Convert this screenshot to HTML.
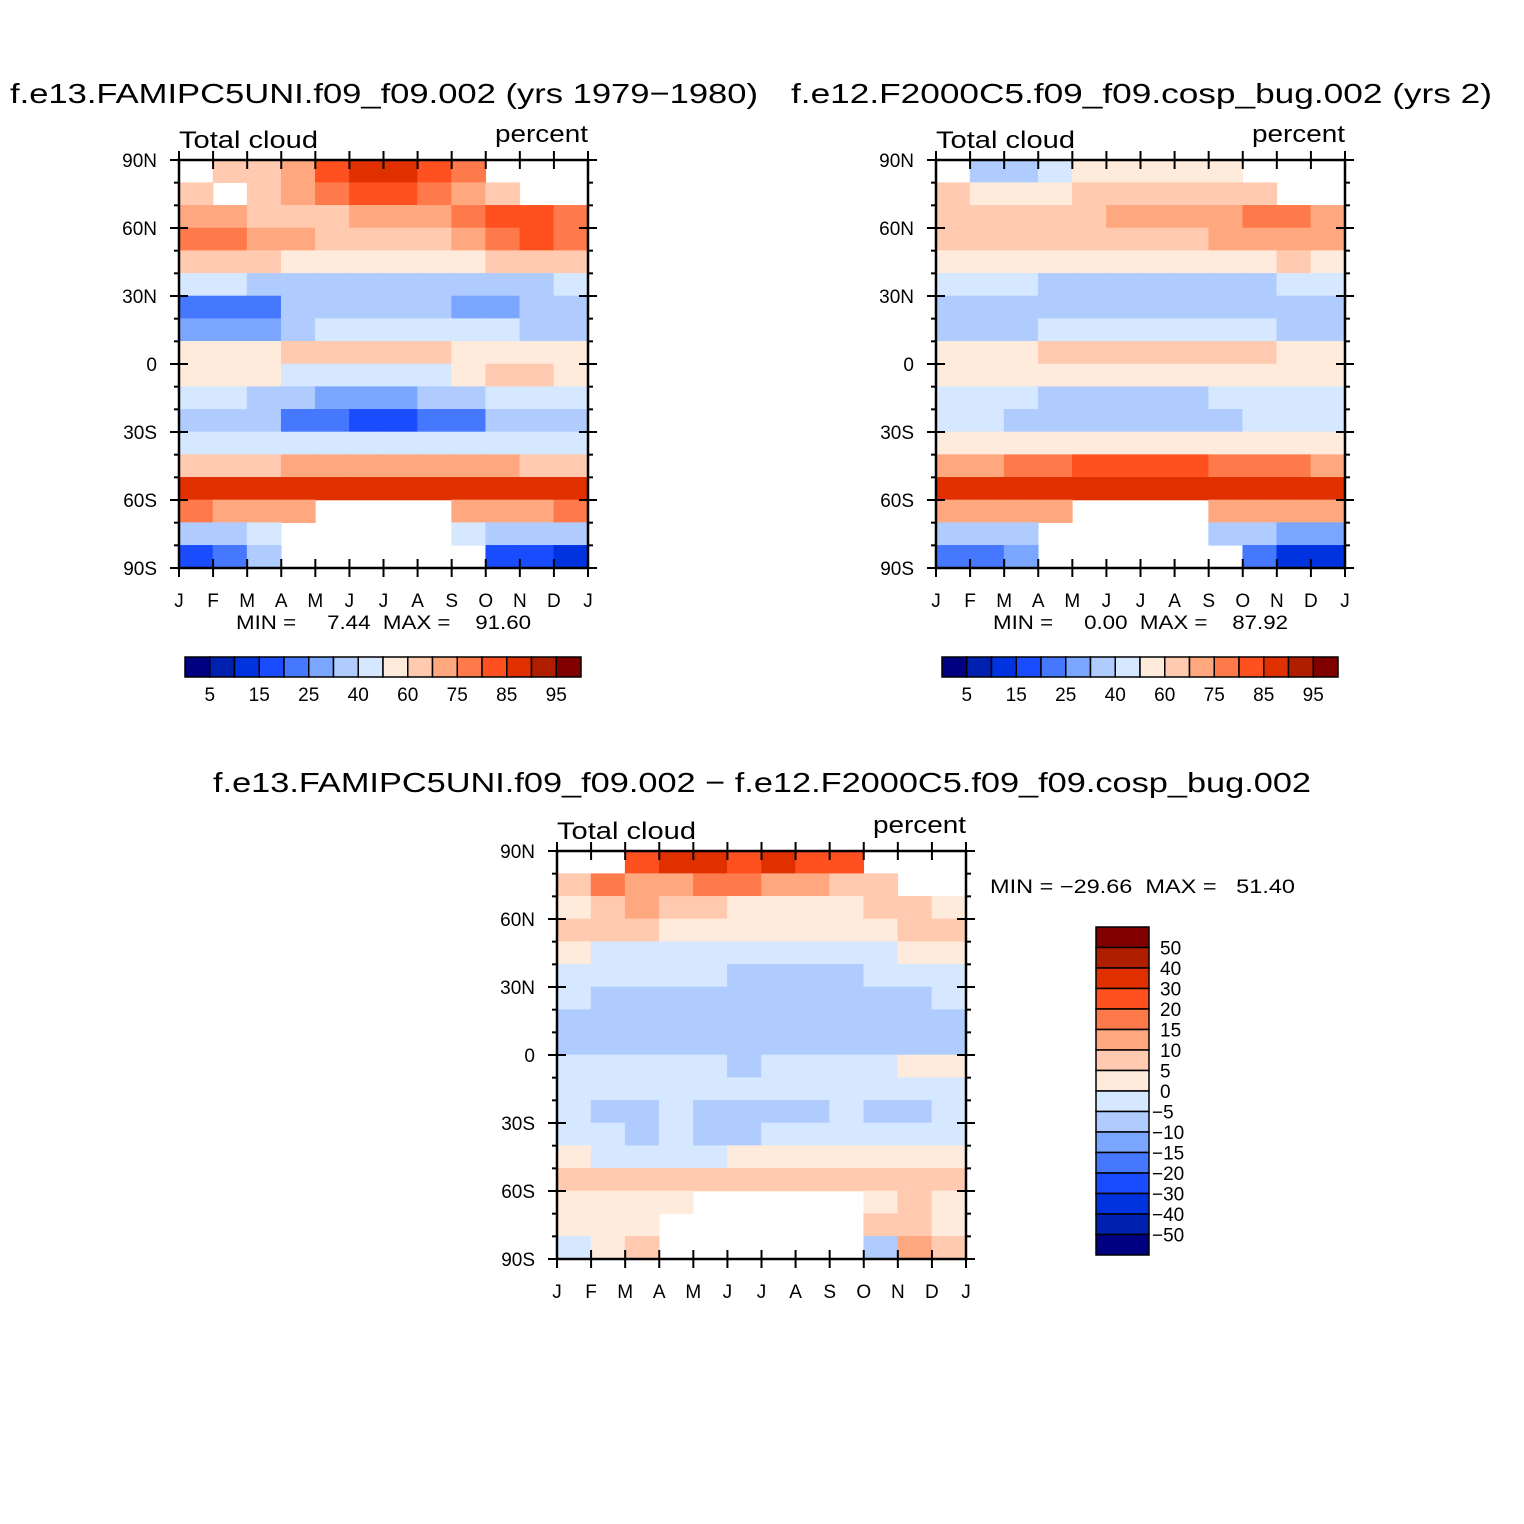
<!DOCTYPE html>
<html><head><meta charset="utf-8"><style>
html,body{margin:0;padding:0;background:#fff;}
svg{display:block;font-family:"Liberation Sans",sans-serif;}
text{white-space:pre;}
</style></head><body>
<svg id="chart" width="1524" height="1524" viewBox="0 0 1524 1524"></svg>
<script>
// ---- data ----
const months = ["J","F","M","A","M","J","J","A","S","O","N","D","J"];
const latLabels = ["90N","60N","30N","0","30S","60S","90S"];
const latTicks = [90,60,30,0,-30,-60,-90];
const latCenters = [85,75,65,55,45,35,25,15,5,-5,-15,-25,-35,-45,-55,-65,-75,-85];
const absLevels = [5,10,15,20,25,30,40,50,60,70,75,80,85,90,95];
const absLabels = ["5","15","25","40","60","75","85","95"];
const diffLevels = [-50,-40,-30,-20,-15,-10,-5,0,5,10,15,20,30,40,50];
const diffLabels = ["50","40","30","20","15","10","5","0","−5","−10","−15","−20","−30","−40","−50"];
const palette = ["#000080","#0020B0","#0033E0","#1A4CFF","#4578FF","#7AA6FF","#B0CCFF","#D6E8FF","#FFEBDC","#FFCAB0","#FFA880","#FF7A4A","#FF5020","#E03000","#B01E00","#800000"];
const N = null;
const cloudA = [
[N,62,65,70,80,86,86,82,75,N,N,N],
[62,N,68,70,75,80,82,78,72,68,N,N],
[70,70,68,66,68,72,72,74,78,80,80,75],
[76,76,72,70,68,66,66,68,72,78,82,78],
[60,62,60,58,56,55,55,55,58,62,62,60],
[40,40,38,36,36,35,32,32,35,36,38,40],
[24,22,24,30,35,35,30,30,28,28,30,30],
[28,26,28,32,42,46,46,46,45,40,36,32],
[52,52,56,62,66,66,64,62,58,56,54,52],
[56,55,50,45,45,45,45,48,55,60,62,56],
[40,40,36,30,28,28,28,30,35,40,40,40],
[36,36,30,24,20,18,18,20,24,30,32,36],
[46,46,45,42,40,40,40,40,42,44,46,46],
[66,66,66,70,74,74,74,74,72,70,68,66],
[86,85,85,86,88,88,88,88,86,86,86,86],
[76,74,74,72,N,N,N,N,74,74,74,76],
[35,36,40,N,N,N,N,N,40,36,36,35],
[16,22,30,N,N,N,N,N,N,18,16,12]];
const cloudB = [
[N,38,35,40,55,55,58,55,50,N,N,N],
[60,50,52,58,62,66,68,66,62,60,N,N],
[66,66,64,64,68,72,72,72,74,76,76,72],
[68,68,66,64,66,66,66,68,70,72,74,70],
[58,58,56,55,55,55,56,55,56,58,60,58],
[42,40,40,38,36,36,35,35,36,38,40,42],
[32,30,32,36,36,36,32,32,30,30,30,30],
[36,36,38,40,42,44,44,44,44,40,38,36],
[56,56,58,62,66,66,66,64,62,60,58,56],
[56,56,54,52,52,52,52,54,56,58,58,56],
[46,46,42,38,36,36,36,38,40,44,46,46],
[42,42,38,36,32,30,32,34,36,40,42,42],
[54,54,54,52,52,52,52,52,52,54,54,54],
[74,74,76,78,80,80,80,80,78,76,76,74],
[86,86,86,86,88,88,86,86,86,86,86,86],
[70,70,72,70,N,N,N,N,72,70,70,70],
[30,30,34,N,N,N,N,N,36,30,28,28],
[20,22,28,N,N,N,N,N,N,24,14,12]];
const cloudDiff = [
[N,N,25,30,30,25,30,25,20,N,N,N],
[8,15,12,10,15,15,10,10,6,6,N,N],
[4,6,10,6,6,4,2,2,4,6,6,4],
[6,6,6,3,3,2,2,2,2,3,6,6],
[2,-2,-2,-2,-2,-3,-5,-5,-2,-2,2,2],
[-2,-3,-2,-3,-3,-6,-6,-6,-6,-3,-3,-2],
[-3,-6,-6,-6,-6,-6,-6,-6,-6,-6,-6,-3],
[-6,-6,-6,-6,-6,-6,-6,-6,-6,-6,-6,-6],
[-6,-8,-6,-6,-6,-6,-6,-6,-6,-6,-8,-6],
[-3,-3,-3,-3,-3,-6,-3,-3,-3,-3,2,2],
[-3,-3,-3,-2,-2,-3,-3,-3,-3,-3,-3,-3],
[-2,-6,-6,-3,-6,-8,-8,-6,-3,-6,-6,-3],
[-3,-3,-6,-3,-6,-6,-3,-3,-3,-3,-3,-2],
[2,-2,-2,-2,-2,2,2,2,2,2,2,2],
[6,6,6,6,6,6,6,6,6,6,6,6],
[4,3,3,3,N,N,N,N,N,4,6,4],
[3,3,3,N,N,N,N,N,N,6,6,3],
[-2,2,6,N,N,N,N,N,N,-6,12,8]];

const svg = document.getElementById('chart');
const NS = 'http://www.w3.org/2000/svg';
function el(tag, attrs, parent){const e=document.createElementNS(NS,tag);for(const k in attrs)e.setAttribute(k,attrs[k]);(parent||svg).appendChild(e);return e;}
function txt(x,y,s,size,anchor,name,len){const t=el('text',{x:x,y:y,'font-size':size,'text-anchor':anchor||'middle',fill:'#000'});t.textContent=s;
if(len){t.setAttribute('textLength',len);t.setAttribute('lengthAdjust','spacingAndGlyphs');}


return t;}
function colorFor(v,levels){let i=0;while(i<levels.length&&v>=levels[i])i++;return palette[i];}

function panel(x0,y0,data,levels,name){
  const W=409,H=408;
  const g=el('g',{});
  
  
  const xs=m=>x0+m*W/12;
  const ys=lat=>y0+(90-lat)*H/180;
  for(let r=0;r<latCenters.length;r++){
    for(let m=0;m<12;m++){
      const v=data[r][m]; if(v===null)continue;
      const c=el('rect',{x:xs(m)-0.3,y:ys(latCenters[r]+5)-0.3,width:W/12+0.6,height:H/18+0.6,fill:colorFor(v,levels)},g);
      
      
    }
  }
  const fr=el('rect',{x:x0,y:y0,width:W,height:H,fill:'none',stroke:'#000','stroke-width':2.5},g);
  
  
  for(let m=0;m<=12;m++){
    el('line',{x1:xs(m),x2:xs(m),y1:y0+H-9,y2:y0+H+9,stroke:'#000','stroke-width':2},g);
    el('line',{x1:xs(m),x2:xs(m),y1:y0-9,y2:y0+9,stroke:'#000','stroke-width':2},g);
    txt(xs(m),y0+H+39,months[m],19,'middle','month-label');
  }
  for(let lat=-90;lat<=90;lat+=10){
    const major=lat%30===0, L=major?9:5;
    el('line',{x1:x0-L,x2:x0+(major?9:0),y1:ys(lat),y2:ys(lat),stroke:'#000','stroke-width':2},g);
    el('line',{x1:x0+W+L,x2:x0+W-(major?9:0),y1:ys(lat),y2:ys(lat),stroke:'#000','stroke-width':2},g);
  }
  latTicks.forEach((lat,i)=>txt(x0-22,ys(lat)+7,latLabels[i],19,'end','lat-label'));
  txt(x0,y0-12,'Total cloud',24,'start','variable-label',139);
  txt(x0+W,y0-18,'percent',24,'end','units-label',93);
}
function hbar(x0,y0,name){
  const w=396/16;
  const g=el('g',{});
  
  
  palette.forEach((c,i)=>{const r=el('rect',{x:x0+i*w,y:y0,width:w,height:20,fill:c,stroke:'#000','stroke-width':1.5},g);
    
    });
  absLabels.forEach((s,i)=>txt(x0+(2*i+1)*w,y0+44,s,19,'middle','colorbar-label'));
}
// titles
txt(10,103,'f.e13.FAMIPC5UNI.f09_f09.002 (yrs 1979−1980)',28,'start','panel1-title',748);
txt(791,103,'f.e12.F2000C5.f09_f09.cosp_bug.002 (yrs 2)',28,'start','panel2-title',701);
txt(213,792,'f.e13.FAMIPC5UNI.f09_f09.002 − f.e12.F2000C5.f09_f09.cosp_bug.002',28,'start','diff-title',1098);
panel(179,160,cloudA,absLevels,'panel1-map');
panel(936,160,cloudB,absLevels,'panel2-map');
panel(557,851,cloudDiff,diffLevels,'diff-map');
txt(236,629,'MIN =     7.44  MAX =    91.60',19,'start','panel1-minmax',295);
txt(993,629,'MIN =     0.00  MAX =    87.92',19,'start','panel2-minmax',295);
txt(990,893,'MIN = −29.66  MAX =   51.40',19,'start','diff-minmax',305);
hbar(185,657,'panel1-colorbar');
hbar(942,657,'panel2-colorbar');
// vertical colorbar
(function(){
  const x0=1096,y0=927,h=328/16;
  const g=el('g',{});
  
  
  for(let i=0;i<16;i++){
    const r=el('rect',{x:x0,y:y0+i*h,width:53,height:h,fill:palette[15-i],stroke:'#000','stroke-width':1.5},g);
    
    
  }
  diffLabels.forEach((s,i)=>txt(i>7?x0+56:x0+64,y0+(i+1)*h+7,s,19,'start','colorbar-label'));
})();
</script>
</body></html>
